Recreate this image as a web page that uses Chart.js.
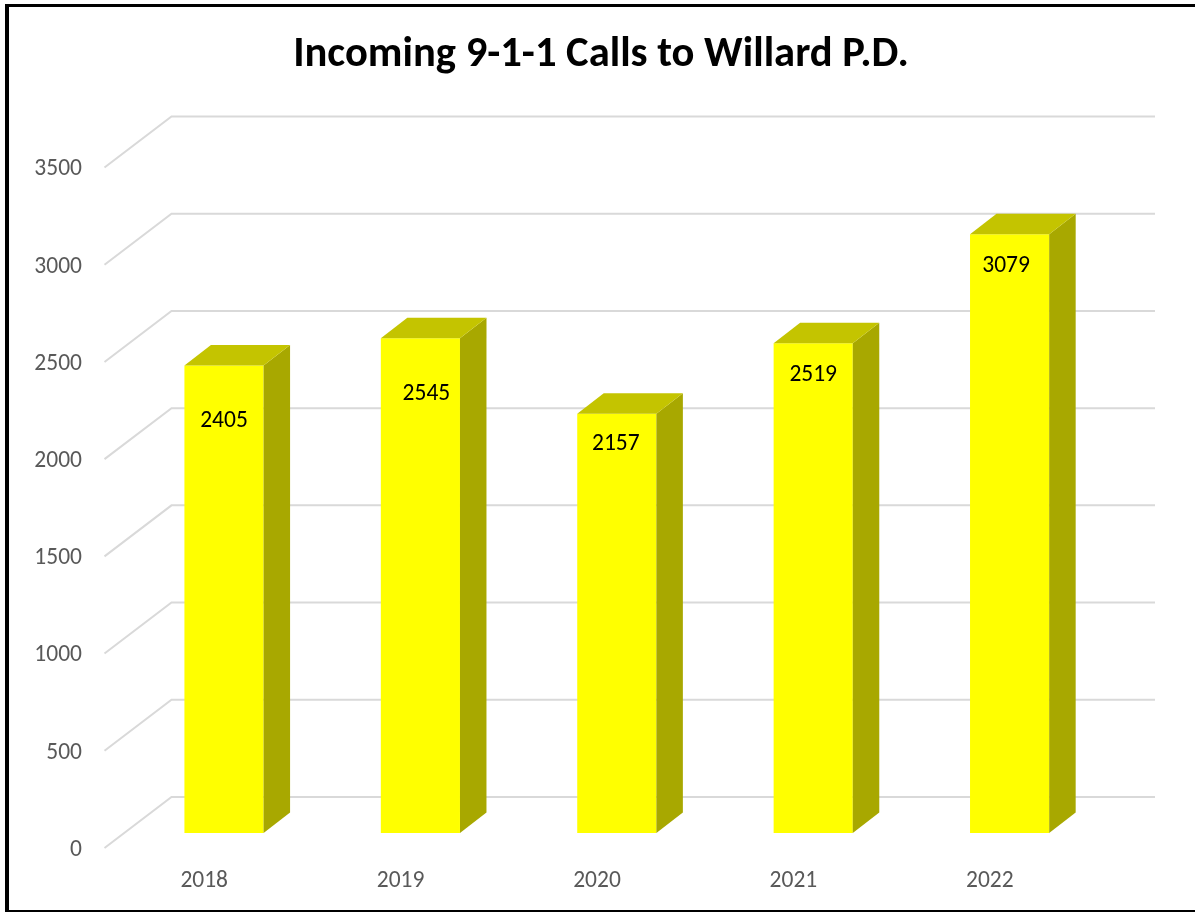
<!DOCTYPE html>
<html>
<head>
<meta charset="utf-8">
<title>Incoming 9-1-1 Calls to Willard P.D.</title>
<script src="https://cdn.jsdelivr.net/npm/chart.js@4/dist/chart.umd.min.js"></script>
<style>
    html, body { margin: 0; padding: 0; background: #fff; overflow: hidden; }
    #wrap { position: relative; width: 1195px; height: 913px; }
    #frame { position: absolute; left: 5px; top: 4px; right: 0; bottom: 1px; border-left: 4px solid #000; border-top: 3px solid #000; border-bottom: 2px solid #000; pointer-events: none; }
</style>
</head>
<body>
<div id="wrap">
    <canvas id="callsChart" width="1195" height="913"></canvas>
    <div id="frame"></div>
</div>
<script>
const years = ['2018', '2019', '2020', '2021', '2022'];
const calls = [2405, 2545, 2157, 2519, 3079];
const yTicks = [0, 500, 1000, 1500, 2000, 2500, 3000, 3500];

// the fake 3D view: bars sit a bit up and right of the axis labels, the wall further back
const BAR_SHIFT = { x: 19.8, y: -17 };
const BAR_DEPTH = { x: 26.5, y: -20.5 };
const WALL = { x: 67, frontY: -2, backY: -53, right: 1155 };
// the value labels are not at a fixed distance from the bar top in the original
const LABEL_NUDGE = [[0, 55.5], [6, 55.5], [-1, 30.5], [0, 31.5], [-3.5, 31.5]];

const FONT = 'Carlito, Lato, sans-serif';

const fake3d = {
    id: 'fake3d',
    beforeDatasetsDraw(chart) {
        const ctx = chart.ctx;
        const y = chart.scales.y;
        const left = chart.chartArea.left - 1.5;
        ctx.save();
        ctx.strokeStyle = '#d9d9d9';
        ctx.lineWidth = 2;
        yTicks.forEach(v => {
            const py = y.getPixelForValue(v);
            ctx.beginPath();
            ctx.moveTo(left, py + WALL.frontY);
            ctx.lineTo(left + WALL.x, py + WALL.backY);
            ctx.lineTo(WALL.right, py + WALL.backY);
            ctx.stroke();
        });
        ctx.restore();
    },
    beforeDatasetDraw(chart) {
        chart.ctx.save();
        chart.ctx.translate(BAR_SHIFT.x, BAR_SHIFT.y);
    },
    afterDatasetDraw(chart, args) {
        const ctx = chart.ctx;
        args.meta.data.forEach(bar => {
            const r = bar.x + bar.width / 2;
            const l = bar.x - bar.width / 2;
            // right side
            ctx.fillStyle = '#a8a800';
            ctx.beginPath();
            ctx.moveTo(r, bar.y);
            ctx.lineTo(r + BAR_DEPTH.x, bar.y + BAR_DEPTH.y);
            ctx.lineTo(r + BAR_DEPTH.x, bar.base + BAR_DEPTH.y);
            ctx.lineTo(r, bar.base);
            ctx.closePath();
            ctx.fill();
            // top
            ctx.fillStyle = '#c4c400';
            ctx.beginPath();
            ctx.moveTo(l, bar.y);
            ctx.lineTo(l + BAR_DEPTH.x, bar.y + BAR_DEPTH.y);
            ctx.lineTo(r + BAR_DEPTH.x, bar.y + BAR_DEPTH.y);
            ctx.lineTo(r, bar.y);
            ctx.closePath();
            ctx.fill();
        });
        ctx.fillStyle = '#000';
        ctx.font = '23.5px ' + FONT;
        ctx.textAlign = 'center';
        ctx.textBaseline = 'middle';
        args.meta.data.forEach((bar, i) => {
            ctx.fillText(calls[i], bar.x + LABEL_NUDGE[i][0], bar.y + LABEL_NUDGE[i][1]);
        });
        ctx.restore();
    }
};

new Chart(document.getElementById('callsChart').getContext('2d'), {
    type: 'bar',
    data: {
        labels: years,
        datasets: [{
            label: 'Calls',
            data: calls,
            backgroundColor: '#ffff00',
            borderWidth: 0,
            categoryPercentage: 1,
            barPercentage: 0.403,
            clip: false
        }]
    },
    options: {
        responsive: false,
        animation: false,
        layout: { padding: { left: 7, right: 0, top: 0, bottom: 0 } },
        plugins: {
            legend: { display: false },
            tooltip: { enabled: false },
            title: {
                display: true,
                text: 'Incoming 9-1-1 Calls to Willard P.D.',
                color: '#000',
                font: { family: FONT, size: 42.6, weight: 'bold', lineHeight: 1.2 },
                padding: { top: 30, bottom: 88.4 }
            }
        },
        scales: {
            x: {
                grid: { display: false },
                border: { display: false },
                ticks: { color: '#595959', font: { family: FONT, size: 23.5 }, padding: 9, maxRotation: 0 },
                afterFit(scale) { scale.height = 63; }
            },
            y: {
                min: 0,
                max: 3500,
                grid: { display: false },
                border: { display: false },
                ticks: {
                    stepSize: 500,
                    color: '#595959',
                    font: { family: FONT, size: 23.5 },
                    padding: 16,
                    callback: v => String(v)
                },
                afterFit(scale) { scale.width = 99; }
            },
            // empty axis, only reserves the space on the right of the plot
            spacer: {
                position: 'right',
                grid: { display: false },
                border: { display: false },
                ticks: { display: false },
                afterFit(scale) { scale.width = 107; }
            }
        }
    },
    plugins: [fake3d]
});
</script>
</body>
</html>
